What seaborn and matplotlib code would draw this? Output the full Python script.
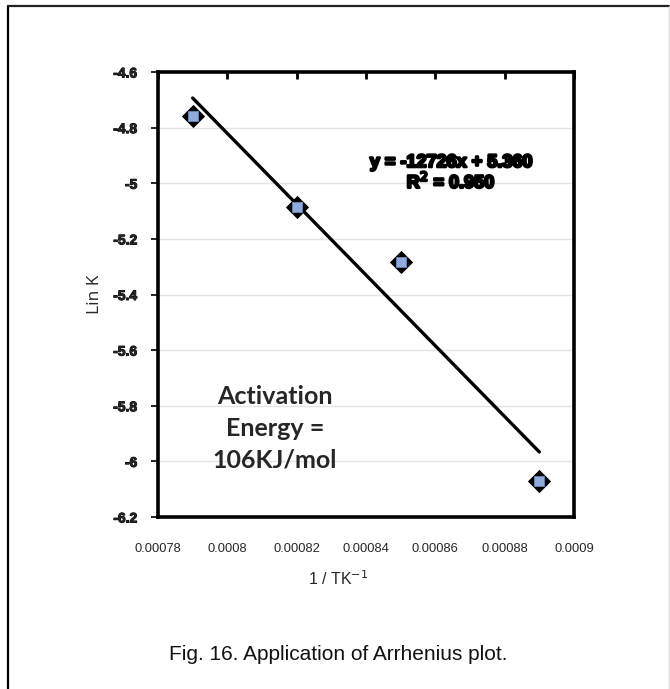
import matplotlib
matplotlib.use("Agg")
import matplotlib.pyplot as plt
import matplotlib.patheffects as pe
from matplotlib.lines import Line2D
import numpy as np
import pandas as pd
import seaborn as sns

# Arrhenius data: reciprocal temperature vs ln k
inv_T = [0.00079, 0.00082, 0.00085, 0.00089]
ln_k = [-4.758, -5.085, -5.282, -6.072]

# Reported linear fit
slope = -12726
intercept = 5.360
r_squared = 0.950

x_ticks = [0.00078, 0.0008, 0.00082, 0.00084, 0.00086, 0.00088, 0.0009]
x_tick_labels = ["0.00078", "0.0008", "0.00082", "0.00084", "0.00086", "0.00088", "0.0009"]
y_ticks = [-4.6, -4.8, -5.0, -5.2, -5.4, -5.6, -5.8, -6.0, -6.2]
y_tick_labels = ["-4.6", "-4.8", "-5", "-5.2", "-5.4", "-5.6", "-5.8", "-6", "-6.2"]

sns.set_style("white")
plt.rcParams["font.family"] = ["Liberation Sans", "DejaVu Sans"]

df = pd.DataFrame({"inv_T": inv_T, "ln_k": ln_k})
fit_x = [min(inv_T), max(inv_T)]
fit_df = pd.DataFrame({"inv_T": fit_x, "ln_k": [slope * v + intercept for v in fit_x]})

W, H = 670, 689
fig = plt.figure(figsize=(W / 100, H / 100), dpi=100)
ax = fig.add_axes([158 / W, 1 - 517 / H, (574 - 158) / W, (517 - 72) / H])

ax.grid(axis="y", color="#e4e4e4", linewidth=1.0)
ax.grid(axis="x", visible=False)
ax.set_axisbelow(True)

# trend line
sns.lineplot(data=fit_df, x="inv_T", y="ln_k", ax=ax, color="black",
             linewidth=2.4, zorder=3)
# markers: black diamond with a blue square centre
sns.scatterplot(data=df, x="inv_T", y="ln_k", ax=ax, marker="D", s=140,
                color="black", edgecolor="black", linewidth=0, zorder=4)
sns.scatterplot(data=df, x="inv_T", y="ln_k", ax=ax, marker="s", s=55,
                color="#8faadc", edgecolor="#7590c4", linewidth=0.5, zorder=5)

ax.set_xlim(0.00078, 0.0009)
ax.set_ylim(-6.2, -4.6)
ax.set_xticks(x_ticks)
ax.set_xticklabels(x_tick_labels, fontsize=9.3)
ax.set_yticks(y_ticks)
ax.set_yticklabels(y_tick_labels, fontsize=10, fontweight="bold")
for lbl in ax.get_yticklabels():
    lbl.set_path_effects([pe.withStroke(linewidth=0.7, foreground="black")])

ax.tick_params(axis="x", top=True, bottom=False, labeltop=False, labelbottom=True,
               direction="in", length=5, width=2, color="black", pad=19)
ax.tick_params(axis="y", left=True, direction="out", length=5, width=1.2,
               color="black", pad=10)

for side in ["left", "right", "top", "bottom"]:
    ax.spines[side].set_visible(True)
    ax.spines[side].set_color("black")
    ax.spines[side].set_linewidth(2.6)

ax.set_ylabel("Lin K", fontsize=12.5, family=["Open Sans", "DejaVu Sans"], labelpad=7)
ax.set_xlabel("1 / TK$^{-1}$", fontsize=11.5, labelpad=8)
ax.xaxis.set_label_coords((338 - 158) / (574 - 158), -0.118)

# fit equation
ax.text((451 - 158) / (574 - 158), 1 - (173 - 72) / (517 - 72),
        f"y = {slope}x + {intercept:.3f}\nR$^{{2}}$ = {r_squared:.3f}",
        transform=ax.transAxes, ha="center", va="center", fontsize=13,
        fontweight="bold", color="black", linespacing=1.05,
        path_effects=[pe.withStroke(linewidth=1.8, foreground="black")])

# activation energy note
ax.text((275 - 158) / (574 - 158), 1 - (428 - 72) / (517 - 72),
        "Activation\nEnergy =\n106KJ/mol", transform=ax.transAxes,
        ha="center", va="center", fontsize=18, fontweight="bold",
        family=["Lato", "DejaVu Sans"], linespacing=1.45)

# caption
fig.text(338 / W, 1 - 655 / H, "Fig. 16. Application of Arrhenius plot.",
         ha="center", va="center", fontsize=15, color="#111111")

# page frame
fig.add_artist(Line2D([8 / W, 8 / W], [0, 1 - 6 / H], transform=fig.transFigure,
                      color="black", linewidth=1.6))
fig.add_artist(Line2D([8 / W, 669 / W], [1 - 6 / H, 1 - 6 / H], transform=fig.transFigure,
                      color="#222222", linewidth=1.6))
fig.add_artist(Line2D([669 / W, 669 / W], [0, 1 - 6 / H], transform=fig.transFigure,
                      color="#d8d8d8", linewidth=1.0))

fig.savefig("out.png", dpi=100)
